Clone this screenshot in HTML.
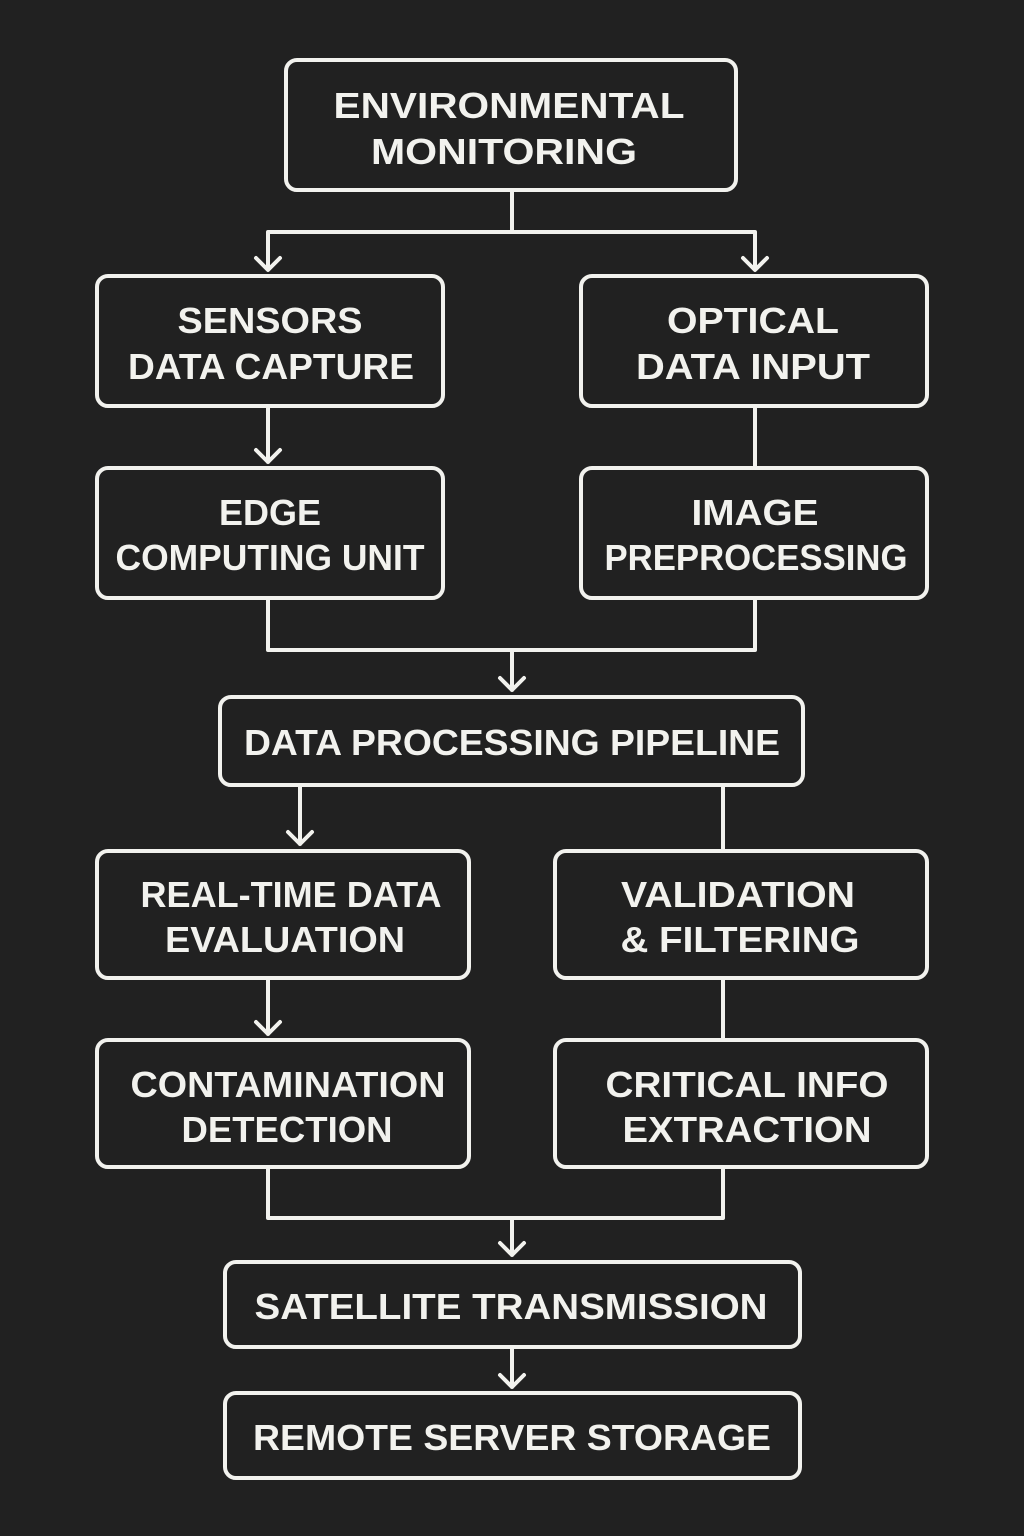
<!DOCTYPE html>
<html><head><meta charset="utf-8"><style>
html,body{margin:0;padding:0;background:#212121;}
svg{display:block;}
text{font-family:"Liberation Sans",sans-serif;font-weight:bold;font-size:36px;fill:#f2f2ee;text-anchor:middle;}
</style></head><body>
<svg width="1024" height="1536" viewBox="0 0 1024 1536" xmlns="http://www.w3.org/2000/svg">
<rect width="1024" height="1536" fill="#212121"/>
<g fill="none" stroke="#f2f2ee" stroke-width="4" stroke-linejoin="round" stroke-linecap="round">
<rect x="286" y="60" width="450" height="130" rx="11"/>
<rect x="97" y="276" width="346" height="130" rx="11"/>
<rect x="581" y="276" width="346" height="130" rx="11"/>
<rect x="97" y="468" width="346" height="130" rx="11"/>
<rect x="581" y="468" width="346" height="130" rx="11"/>
<rect x="220" y="697" width="583" height="88" rx="11"/>
<rect x="97" y="851" width="372" height="127" rx="11"/>
<rect x="555" y="851" width="372" height="127" rx="11"/>
<rect x="97" y="1040" width="372" height="127" rx="11"/>
<rect x="555" y="1040" width="372" height="127" rx="11"/>
<rect x="225" y="1262" width="575" height="85" rx="11"/>
<rect x="225" y="1393" width="575" height="85" rx="11"/>
<path d="M512 190V232M268 268V232H755V268"/>
<path d="M256 258L268 270L280 258M743 258L755 270L767 258"/>
<path d="M268 406V462M256 450L268 462L280 450"/>
<path d="M755 406V468"/>
<path d="M268 598V650H755V598M512 650V690M500 678L512 690L524 678"/>
<path d="M300 785V844M288 832L300 844L312 832"/>
<path d="M723 785V851"/>
<path d="M268 978V1034M256 1022L268 1034L280 1022"/>
<path d="M723 978V1040"/>
<path d="M268 1167V1218H723V1167M512 1218V1255M500 1243L512 1255L524 1243"/>
<path d="M512 1347V1387M500 1375L512 1387L524 1375"/>
</g>
<text x="509" y="118" textLength="351" lengthAdjust="spacingAndGlyphs">ENVIRONMENTAL</text>
<text x="504" y="164" textLength="266" lengthAdjust="spacingAndGlyphs">MONITORING</text>
<text x="270" y="333" textLength="185" lengthAdjust="spacingAndGlyphs">SENSORS</text>
<text x="271" y="379" textLength="286" lengthAdjust="spacingAndGlyphs">DATA CAPTURE</text>
<text x="753" y="333" textLength="172" lengthAdjust="spacingAndGlyphs">OPTICAL</text>
<text x="753" y="379" textLength="234" lengthAdjust="spacingAndGlyphs">DATA INPUT</text>
<text x="270" y="525" textLength="102" lengthAdjust="spacingAndGlyphs">EDGE</text>
<text x="270" y="570" textLength="309" lengthAdjust="spacingAndGlyphs">COMPUTING UNIT</text>
<text x="755" y="525" textLength="127" lengthAdjust="spacingAndGlyphs">IMAGE</text>
<text x="756" y="570" textLength="303" lengthAdjust="spacingAndGlyphs">PREPROCESSING</text>
<text x="512" y="755" textLength="536" lengthAdjust="spacingAndGlyphs">DATA PROCESSING PIPELINE</text>
<text x="291" y="907" textLength="301" lengthAdjust="spacingAndGlyphs">REAL-TIME DATA</text>
<text x="285" y="952" textLength="240" lengthAdjust="spacingAndGlyphs">EVALUATION</text>
<text x="738" y="907" textLength="234" lengthAdjust="spacingAndGlyphs">VALIDATION</text>
<text x="740" y="952" textLength="239" lengthAdjust="spacingAndGlyphs">&amp; FILTERING</text>
<text x="288" y="1097" textLength="315" lengthAdjust="spacingAndGlyphs">CONTAMINATION</text>
<text x="287" y="1142" textLength="211" lengthAdjust="spacingAndGlyphs">DETECTION</text>
<text x="747" y="1097" textLength="283" lengthAdjust="spacingAndGlyphs">CRITICAL INFO</text>
<text x="747" y="1142" textLength="249" lengthAdjust="spacingAndGlyphs">EXTRACTION</text>
<text x="511" y="1319" textLength="513" lengthAdjust="spacingAndGlyphs">SATELLITE TRANSMISSION</text>
<text x="512" y="1450" textLength="518" lengthAdjust="spacingAndGlyphs">REMOTE SERVER STORAGE</text>
</svg>
</body></html>
